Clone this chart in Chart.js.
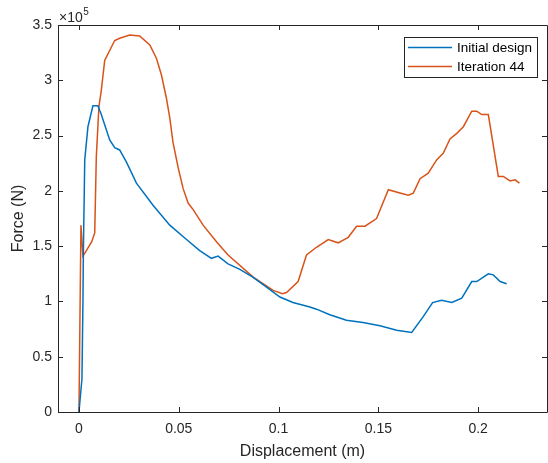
<!DOCTYPE html>
<html>
<head>
<meta charset="utf-8">
<script src="https://cdn.jsdelivr.net/npm/chart.js@4.4.1/dist/chart.umd.min.js"></script>
<style>
html,body{margin:0;padding:0;background:#fff;}
#wrap{width:548px;height:463px;position:relative;}
</style>
</head>
<body>
<div id="wrap"><canvas id="c" width="548" height="463"></canvas></div>
<script>
// Displacement (m) and force (N)
const initialX = [0, 0.0015, 0.002, 0.0022, 0.0029, 0.0045, 0.007, 0.0095, 0.0112, 0.0154, 0.0179, 0.0204, 0.0238, 0.0288, 0.0371, 0.0455, 0.0539, 0.0605, 0.0664, 0.0697, 0.0747, 0.0806, 0.0871, 0.094, 0.1007, 0.1072, 0.1157, 0.119, 0.1257, 0.134, 0.1423, 0.1508, 0.1592, 0.1667, 0.1724, 0.1772, 0.1817, 0.1868, 0.1918, 0.1968, 0.1993, 0.2051, 0.2076, 0.211, 0.2143];
const initialF = [0, 30000, 100000, 143000, 228000, 258000, 277000, 277000, 269000, 246000, 239000, 237000, 226000, 207000, 187000, 169000, 156000, 146000, 139000, 141000, 134000, 129000, 122000, 113000, 104000, 99000, 95000, 93000, 88000, 83000, 81000, 78000, 74000, 72000, 86000, 99000, 101000, 99000, 103000, 118000, 118000, 125000, 124000, 118000, 116000];
const iterX = [0, 0.001, 0.002, 0.0034, 0.0064, 0.0079, 0.0087, 0.01, 0.0112, 0.0129, 0.0179, 0.0204, 0.0254, 0.0304, 0.0355, 0.0388, 0.0413, 0.0438, 0.0455, 0.0471, 0.0497, 0.0522, 0.0547, 0.0572, 0.0622, 0.0689, 0.0747, 0.0873, 0.0973, 0.102, 0.104, 0.1098, 0.114, 0.119, 0.1249, 0.1299, 0.1349, 0.1391, 0.1433, 0.1491, 0.155, 0.1608, 0.165, 0.1675, 0.1709, 0.175, 0.1792, 0.1825, 0.1859, 0.1893, 0.1926, 0.1968, 0.1993, 0.2018, 0.2051, 0.2101, 0.2126, 0.216, 0.2185, 0.2207];
const iterF = [0, 169000, 141000, 145000, 154000, 162000, 231000, 276000, 291000, 318000, 336000, 338000, 341000, 340000, 332000, 320000, 305000, 284000, 266000, 244000, 221000, 202000, 189000, 183000, 169000, 154000, 142000, 122000, 110000, 107000, 108000, 118000, 142000, 149000, 156000, 153000, 158000, 168000, 168000, 175000, 201000, 198000, 196000, 198000, 211000, 216000, 228000, 234000, 247000, 252000, 258000, 272000, 272000, 269000, 269000, 213000, 213000, 209000, 210000, 207000];
const seriesNames = ["Initial design", "Iteration 44"];
const seriesColors = ["#0072BD", "#D95319"];
const xTicks = [0, 0.05, 0.1, 0.15, 0.2];
const xTickLabels = ["0", "0.05", "0.1", "0.15", "0.2"];
const yTicks = [0, 50000, 100000, 150000, 200000, 250000, 300000, 350000];
const yTickLabels = ["0", "0.5", "1", "1.5", "2", "2.5", "3", "3.5"];

const FONT = "'Liberation Sans', Arial, Helvetica, sans-serif";
const TXT = "#262626";

function pts(xs, ys){ return xs.map((x,i)=>({x:x, y:ys[i]})); }

const boxPlugin = {
  id: 'matlabBox',
  afterDraw(chart){
    const ctx = chart.ctx, a = chart.chartArea;
    const xs = chart.scales.x, ys = chart.scales.y;
    ctx.save();
    ctx.strokeStyle = TXT;
    ctx.lineWidth = 1;
    ctx.beginPath();
    ctx.rect(Math.round(a.left)+0.5, Math.round(a.top)+0.5, Math.round(a.right-a.left), Math.round(a.bottom-a.top));
    ctx.stroke();
    const tl = 5;
    ctx.beginPath();
    xTicks.forEach(v=>{
      const p = Math.round(xs.getPixelForValue(v))+0.5;
      ctx.moveTo(p, a.bottom); ctx.lineTo(p, a.bottom - tl);
      ctx.moveTo(p, a.top); ctx.lineTo(p, a.top + tl);
    });
    yTicks.forEach(v=>{
      const p = Math.round(ys.getPixelForValue(v))+0.5;
      ctx.moveTo(a.left, p); ctx.lineTo(a.left + tl, p);
      ctx.moveTo(a.right, p); ctx.lineTo(a.right - tl, p);
    });
    ctx.stroke();
    // exponent label
    ctx.fillStyle = TXT;
    ctx.textBaseline = 'alphabetic';
    ctx.textAlign = 'left';
    ctx.font = "14px " + FONT;
    ctx.fillText("\u00d710", 59, 22);
    const w = ctx.measureText("\u00d710").width;
    ctx.font = "10px " + FONT;
    ctx.fillText("5", 59 + w + 0.5, 15);
    // legend
    const lx = 404, ly = 37, lw = 133, lh = 40;
    ctx.fillStyle = "#fff";
    ctx.fillRect(lx, ly, lw, lh);
    ctx.strokeStyle = TXT;
    ctx.lineWidth = 1;
    ctx.strokeRect(lx+0.5, ly+0.5, lw, lh);
    chart.data.datasets.forEach((ds, i)=>{
      const y = ly + 10.5 + i*19;
      ctx.strokeStyle = ds.borderColor;
      ctx.lineWidth = 1.5;
      ctx.beginPath(); ctx.moveTo(lx+4, y); ctx.lineTo(lx+48, y); ctx.stroke();
      ctx.fillStyle = "#000";
      ctx.font = "13.5px " + FONT;
      ctx.textBaseline = 'middle';
      ctx.fillText(ds.label, lx+53, y+0.5);
    });
    ctx.restore();
  }
};

new Chart(document.getElementById('c'), {
  type: 'line',
  data: {
    datasets: [
      { label: seriesNames[0], data: pts(initialX, initialF), borderColor: seriesColors[0], backgroundColor: seriesColors[0], borderWidth: 1.5, pointRadius: 0, tension: 0, fill: false },
      { label: seriesNames[1], data: pts(iterX, iterF), borderColor: seriesColors[1], backgroundColor: seriesColors[1], borderWidth: 1.5, pointRadius: 0, tension: 0, fill: false }
    ]
  },
  options: {
    responsive: false,
    animation: false,
    devicePixelRatio: 1,
    layout: { padding: { left: 0, right: 1, top: 25, bottom: 0 } },
    plugins: { legend: { display: false }, tooltip: { enabled: false }, title: { display: false } },
    scales: {
      x: {
        type: 'linear', min: -0.0105, max: 0.2345,
        afterBuildTicks(s){ s.ticks = xTicks.map(v=>({value:v})); },
        afterFit(s){ s.height = 51; },
        grid: { display: false, drawTicks: false },
        border: { display: false },
        ticks: { color: TXT, font: { family: FONT, size: 14 }, padding: 9, maxRotation: 0, autoSkip: false,
          callback(v){ const i = xTicks.indexOf(v); return i >= 0 ? xTickLabels[i] : ''; } },
        title: { display: true, text: 'Displacement (m)', color: TXT, font: { family: FONT, size: 16 }, padding: { top: 0, bottom: 2 } }
      },
      y: {
        type: 'linear', min: 0, max: 350000,
        afterBuildTicks(s){ s.ticks = yTicks.map(v=>({value:v})); },
        afterFit(s){ s.width = 58; },
        grid: { display: false, drawTicks: false },
        border: { display: false },
        ticks: { color: TXT, font: { family: FONT, size: 14 }, padding: 6, autoSkip: false,
          callback(v){ const i = yTicks.indexOf(v); return i >= 0 ? yTickLabels[i] : ''; } },
        title: { display: true, text: 'Force (N)', color: TXT, font: { family: FONT, size: 16 }, padding: { top: 9, bottom: 0 } }
      }
    }
  },
  plugins: [boxPlugin]
});
</script>
</body>
</html>
